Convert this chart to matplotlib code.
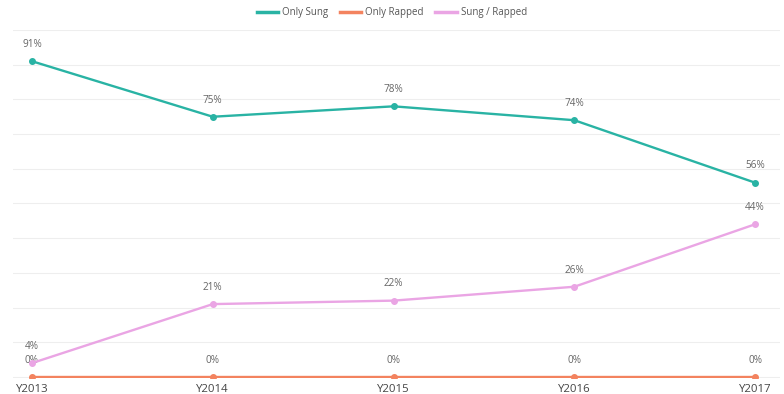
import matplotlib
matplotlib.use("Agg")
import matplotlib.pyplot as plt
from matplotlib.lines import Line2D

years = ["Y2013", "Y2014", "Y2015", "Y2016", "Y2017"]
only_sung = [91, 75, 78, 74, 56]
only_rapped = [0, 0, 0, 0, 0]
sung_rapped = [4, 21, 22, 26, 44]

series = [
    ("Only Sung", only_sung, "#29b3a4"),
    ("Only Rapped", only_rapped, "#f3835f"),
    ("Sung / Rapped", sung_rapped, "#eaa5e4"),
]

plt.rcParams["font.family"] = ["Open Sans", "DejaVu Sans"]

fig = plt.figure(figsize=(7.84, 3.94), dpi=100)
ax = fig.add_axes([13 / 784, 1 - 378 / 394, (780 - 13) / 784, (378 - 30) / 394])

x = list(range(len(years)))
for name, vals, color in series:
    ax.plot(x, vals, color=color, lw=1.7, marker="o", ms=4.0,
            clip_on=(min(vals) == 0), zorder=3, label=name)
    for xi, v in zip(x, vals):
        ax.annotate(f"{v}%", (xi, v), xytext=(0, 12), textcoords="offset points",
                    ha="center", va="center", fontsize=7.2, color="#666666")

ax.set_xlim(-0.105, 4.138)
ax.set_ylim(-0.3, 100)
ax.set_yticks(range(0, 101, 10))
ax.set_yticklabels([])
ax.tick_params(axis="y", length=0)
ax.grid(axis="y", color="#eeeeee", lw=0.8)
ax.set_axisbelow(True)
ax.set_xticks(x)
ax.set_xticklabels(years, fontsize=8.2, color="#444444")
ax.tick_params(axis="x", length=0, pad=4)
for s in ax.spines.values():
    s.set_visible(False)

handles = [Line2D([0], [0], color=c, lw=2.5) for _, _, c in series]
fig.legend(handles, [n for n, _, _ in series], loc="center", bbox_to_anchor=(0.5, 1 - 13 / 394),
           ncol=3, frameon=False, fontsize=7, handlelength=2.2, handletextpad=0.4,
           columnspacing=1.2, labelcolor="#555555")

fig.savefig("out.png", dpi=100)
